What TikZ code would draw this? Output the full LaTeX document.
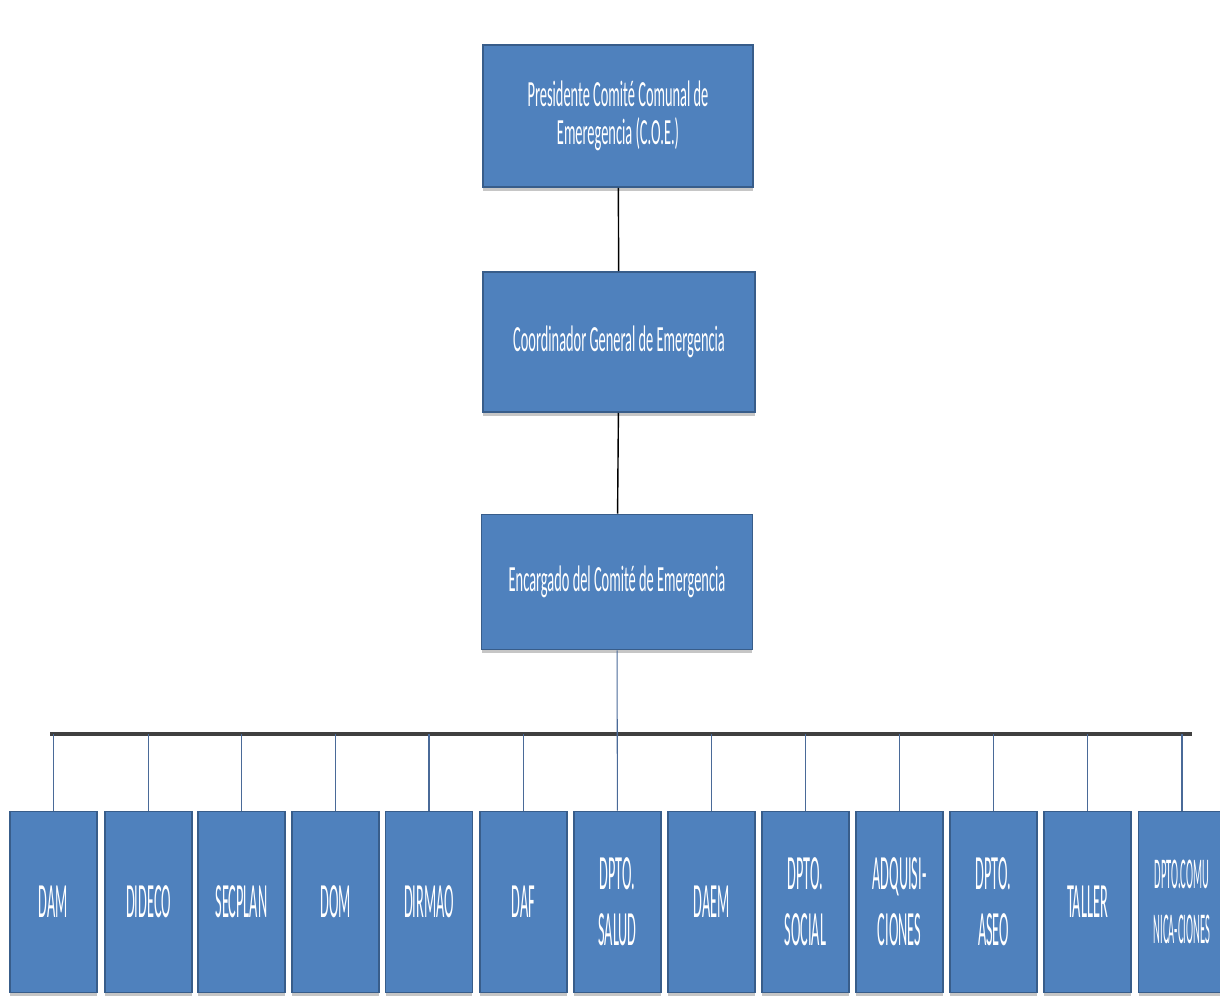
\documentclass[tikz,border=0pt]{standalone}
\usepackage{fontspec}
\newfontfamily\headfont[FakeStretch=0.39]{Carlito}
\newfontfamily\deptfont[FakeStretch=0.29]{Carlito}
\newfontfamily\narrowfont[FakeStretch=0.24]{Carlito}
\usetikzlibrary{shadows}
\definecolor{boxblue}{HTML}{4F81BD}
\definecolor{boxedge}{HTML}{385D8A}
\definecolor{dropline}{HTML}{4A6A98}

\begin{document}
\begin{tikzpicture}[x=0.02cm,y=-0.02cm]
\tikzset{unit/.style = {shape=rectangle,draw=boxedge,line width=1pt,fill=boxblue,text=white,align=center,inner sep=0pt,drop shadow={shadow xshift=0pt,shadow yshift=-2pt,opacity=0.45}}}
\tikzset{head/.style = {unit,font=\headfont\fontsize{21}{22}\selectfont}}
\tikzset{dept/.style = {unit,minimum width=1.74cm,minimum height=3.62cm,font=\deptfont\fontsize{28}{31.7}\selectfont}}
\tikzset{link/.style = {draw=black,line width=0.8pt}}
\tikzset{drop/.style = {draw=dropline,line width=0.6pt}}
\tikzset{bus/.style = {draw=black!75,line width=2pt}}
\useasboundingbox (0,0) rectangle (1220,995);
\clip (0,0) rectangle (1220,995);
% main chain
\node[head,minimum width=5.4cm,minimum height=2.84cm] (pres) at (618,116) {Presidente Comité Comunal de\\Emeregencia (C.O.E.)};
\node[head,minimum width=5.44cm,minimum height=2.8cm] (coord) at (619,342) {Coordinador General de Emergencia};
\node[head,minimum width=5.42cm,minimum height=2.7cm] (enc) at (617,582) {Encargado del Comité de Emergencia};
% departments
\node[dept] (dam) at (53.5,902) {DAM};
\node[dept] (dideco) at (148.5,902) {DIDECO};
\node[dept] (secplan) at (241.5,902) {SECPLAN};
\node[dept] (dom) at (335.5,902) {DOM};
\node[dept] (dirmao) at (429,902) {DIRMAO};
\node[dept] (daf) at (523.5,902) {DAF};
\node[dept] (salud) at (617.5,902) {DPTO.\\SALUD};
\node[dept] (daem) at (711.5,902) {DAEM};
\node[dept] (social) at (805.5,902) {DPTO.\\SOCIAL};
\node[dept] (adq) at (899.5,902) {ADQUISI-\\CIONES};
\node[dept] (aseo) at (993.5,902) {DPTO.\\ASEO};
\node[dept] (taller) at (1087.5,902) {TALLER};
\node[dept,font=\narrowfont\fontsize{25}{31.7}\selectfont] (comu) at (1182,902) {DPTO.COMU\\NICA-CIONES};
% edges
\draw[link] (pres) -- (coord);
\draw[link] (coord) -- (enc);
\coordinate (busl) at (50,734);
\coordinate (busr) at (1192,734);
\draw[bus] (busl) -- (busr);
\draw[drop] (enc) -- (salud);
\draw[drop] (dam.north) -- (dam.north |- busl);
\draw[drop] (dideco.north) -- (dideco.north |- busl);
\draw[drop] (secplan.north) -- (secplan.north |- busl);
\draw[drop] (dom.north) -- (dom.north |- busl);
\draw[drop] (dirmao.north) -- (dirmao.north |- busl);
\draw[drop] (daf.north) -- (daf.north |- busl);
\draw[drop] (daem.north) -- (daem.north |- busl);
\draw[drop] (social.north) -- (social.north |- busl);
\draw[drop] (adq.north) -- (adq.north |- busl);
\draw[drop] (aseo.north) -- (aseo.north |- busl);
\draw[drop] (taller.north) -- (taller.north |- busl);
\draw[drop] (comu.north) -- (comu.north |- busl);
\end{tikzpicture}
\end{document}
